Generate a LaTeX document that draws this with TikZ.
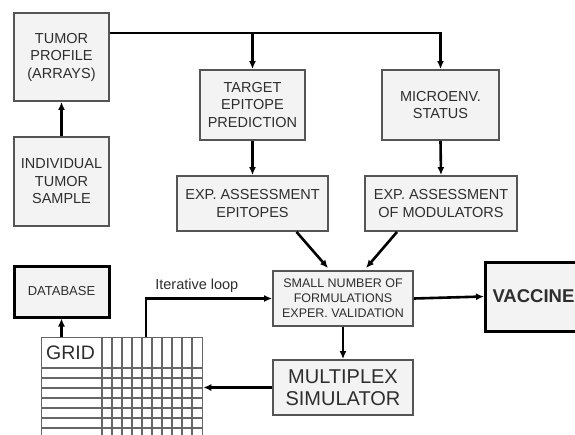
\documentclass[tikz,border=0pt]{standalone}
\usepackage{fontspec}
\setmainfont{Liberation Sans}
\usepackage{tikz}
\usetikzlibrary{positioning,calc,arrows.meta}
\definecolor{BoxBg}{HTML}{F3F3F3}
\definecolor{BoxLine}{HTML}{555555}
\definecolor{TxtGray}{HTML}{2E2E2E}
\definecolor{GridLine}{HTML}{666666}

\begin{document}
\begin{tikzpicture}[x=1pt,y=-1pt,
  box/.style={draw=BoxLine,fill=BoxBg,line width=1.8pt,align=center,text=TxtGray,
              inner sep=0pt,font=\fontsize{14.5}{17.5}\selectfont},
  bigbox/.style={box,draw=black,line width=3pt},
  arr/.style={-{Latex[length=8pt,width=7pt]},line width=2.6pt}]
\useasboundingbox[fill=white] (0,0) rectangle (575,434);

% upper chain
\node[box,minimum width=95pt,minimum height=88pt] (prof) at (61.5,57) {TUMOR\\PROFILE\\(ARRAYS)};
\node[box,minimum width=95pt,minimum height=89pt] (samp) at (61.5,181.5) {INDIVIDUAL\\TUMOR\\SAMPLE};
\node[box,minimum width=105pt,minimum height=70pt] (targ) at (252.5,105) {TARGET\\EPITOPE\\PREDICTION};
\node[box,minimum width=117pt,minimum height=70pt] (micro) at (440.5,105) {MICROENV.\\STATUS};
\node[box,minimum width=151pt,minimum height=55pt] (expe) at (252.5,203.5) {EXP. ASSESSMENT\\EPITOPES};
\node[box,minimum width=152pt,minimum height=55pt] (expm) at (441,203.5) {EXP. ASSESSMENT\\OF MODULATORS};

% lower part
\node[box,minimum width=140pt,minimum height=55pt,font=\fontsize{12.5}{15}\selectfont] (small) at (343,298.5)
  {SMALL NUMBER OF\\FORMULATIONS\\EXPER. VALIDATION};
\node[box,minimum width=140pt,minimum height=55pt,font=\fontsize{20}{22}\selectfont] (mult) at (343,387.5)
  {MULTIPLEX\\SIMULATOR};
\node[bigbox,minimum width=95pt,minimum height=51pt,font=\fontsize{13}{15}\selectfont] (db) at (61.5,291.5) {DATABASE};
\node[bigbox,anchor=west,minimum height=69pt,inner xsep=7pt,text width=130pt,align=left,
      font=\bfseries\fontsize{18.5}{20}\selectfont] (vacc) at (484,296.5) {VACCINE};

% grid
\node[draw=GridLine,fill=white,line width=1.3pt,minimum width=161pt,minimum height=120pt,
      anchor=north west,inner sep=0pt] (grid) at (41,337) {};
\foreach \gx in {102,112,...,192} \draw[GridLine,line width=1.1pt] (\gx,337) -- (\gx,457);
\foreach \gy in {368,378,...,448} \draw[GridLine,line width=1.1pt] (41,\gy) -- (202,\gy);
\node[anchor=west,inner sep=0pt,text=TxtGray,font=\fontsize{19.5}{20}\selectfont] (gridlbl) at (46,353) {GRID};

% connectors
\coordinate (bus) at ([yshift=24pt]prof.east);
\coordinate (loop) at ([xshift=105pt]grid.north west);
\draw[arr] (bus) -| (micro.north);
\draw[arr] (bus -| targ.north) -- (targ.north);
\draw[arr] (samp.north) -- (prof.south);
\draw[arr] (targ.south) -- (expe.north);
\draw[arr] (micro.south) -- (expm.north);
\draw[arr] ([xshift=44pt]expe.south) -- ([xshift=-15pt,yshift=2pt]small.north);
\draw[arr] ([xshift=-44pt]expm.south) -- ([xshift=23pt,yshift=2pt]small.north);
\draw[arr] (small.east) -- (vacc.west);
\draw[arr] (small.south) -- (mult.north);
\draw[arr] (db.south |- grid.north) -- (db.south);
\draw[arr] (loop) |- (small.west)
  node[pos=0.5,anchor=south west,xshift=6pt,yshift=3pt,inner sep=2pt,text=TxtGray,
       font=\fontsize{14.5}{16}\selectfont] {Iterative loop};
\draw[arr] (mult.west) -- (mult.west -| grid.east);
\end{tikzpicture}
\end{document}
